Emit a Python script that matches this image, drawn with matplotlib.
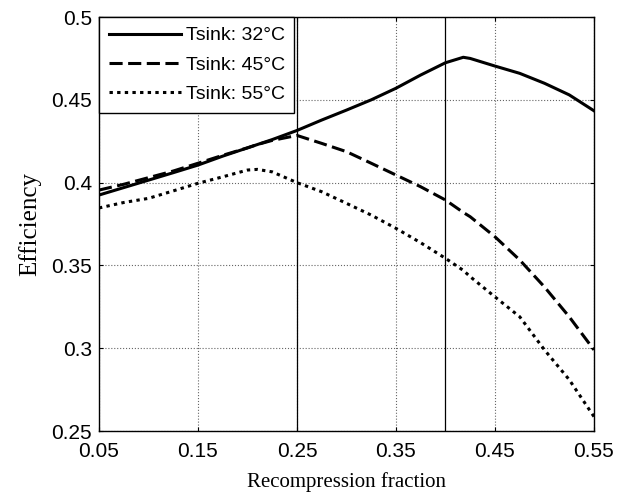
import matplotlib
matplotlib.use('Agg')
import matplotlib.pyplot as plt
import numpy as np

# recompression fraction
x = [0.05, 0.075, 0.10, 0.125, 0.15, 0.175, 0.20, 0.21, 0.225, 0.25, 0.275,
     0.30, 0.325, 0.35, 0.375, 0.40, 0.418, 0.425, 0.45, 0.475, 0.50, 0.525, 0.55]

eff_32 = [0.3925, 0.397, 0.4015, 0.406, 0.4106, 0.416, 0.421, 0.423, 0.426, 0.4315, 0.4378,
          0.4438, 0.450, 0.457, 0.465, 0.4724, 0.4757, 0.475, 0.4704, 0.466, 0.460, 0.453, 0.4434]
eff_45 = [0.3955, 0.399, 0.403, 0.407, 0.4117, 0.4165, 0.421, 0.423, 0.4255, 0.4285, 0.4237,
          0.4187, 0.4117, 0.4046, 0.3975, 0.3895, 0.382, 0.3794, 0.3673, 0.3533, 0.337, 0.319, 0.299]
eff_55 = [0.3847, 0.388, 0.3905, 0.395, 0.3996, 0.4035, 0.4076, 0.408, 0.4065, 0.4, 0.3945,
          0.3875, 0.3804, 0.3724, 0.3637, 0.3543, 0.347, 0.3432, 0.331, 0.319, 0.299, 0.281, 0.2587]

labels = ['Tsink: 32\u00b0C', 'Tsink: 45\u00b0C', 'Tsink: 55\u00b0C']
xticks = [0.05, 0.15, 0.25, 0.35, 0.45, 0.55]
yticks = [0.25, 0.3, 0.35, 0.4, 0.45, 0.5]

fig = plt.figure(figsize=(6.28, 4.94), dpi=100)
ax = fig.add_axes([0.1576, 0.1275, 0.7882, 0.838])

ax.plot(x, eff_32, 'k-', lw=2.2, label=labels[0])
ax.plot(x, eff_45, 'k--', lw=2.2, dashes=(4.3, 1.8), label=labels[1])
ax.plot(x, eff_55, 'k:', lw=2.2, dashes=(1.1, 1.4), label=labels[2])

# extra vertical markers
ax.axvline(0.25, color='k', lw=0.9)
ax.axvline(0.40, color='k', lw=0.9)

ax.set_xlim(0.05, 0.55)
ax.set_ylim(0.25, 0.5)
ax.set_xticks(xticks)
ax.set_xticklabels(['0.05', '0.15', '0.25', '0.35', '0.45', '0.55'])
ax.set_yticks(yticks)
ax.set_yticklabels(['0.25', '0.3', '0.35', '0.4', '0.45', '0.5'])
ax.grid(True, color='#666666', linestyle=':', lw=0.8)
ax.tick_params(direction='in', top=True, right=True, length=3,
               labelsize=15)
ax.tick_params(axis='x', pad=8)
ax.tick_params(axis='y', pad=5)
for lab in ax.get_xticklabels() + ax.get_yticklabels():
    lab.set_family('Liberation Sans')
for sp in ax.spines.values():
    sp.set_linewidth(1.0)

ax.set_xlabel('Recompression fraction', family='Liberation Serif', fontsize=15, labelpad=8)
ax.set_ylabel('Efficiency', family='Liberation Serif', fontsize=18, labelpad=7)

leg = ax.legend(loc='upper left', bbox_to_anchor=(0.0, 1.0), fancybox=False,
                edgecolor='k', framealpha=1, handlelength=3.7, handletextpad=0.25,
                prop={'family': 'Liberation Sans', 'size': 14},
                borderaxespad=0.0, labelspacing=0.6, borderpad=0.5)
leg.get_frame().set_linewidth(1.0)

fig.savefig('out.png', dpi=100)
